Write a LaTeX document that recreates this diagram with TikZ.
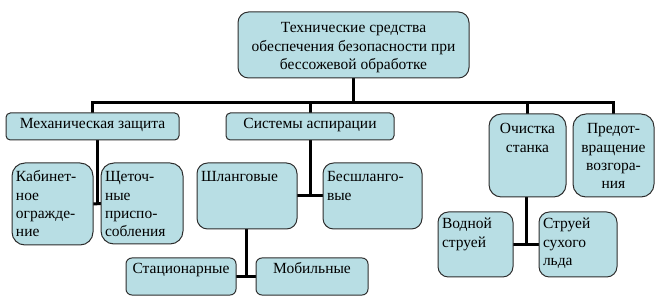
\documentclass[tikz,border=0pt]{standalone}
\usepackage{fontspec}
\setmainfont{Liberation Serif}
\newfontfamily\boxfont{Liberation Serif}
\usetikzlibrary{calc,backgrounds}
\definecolor{boxfill}{RGB}{184,222,228}
\definecolor{boxline}{RGB}{45,45,45}
\newcommand\bx[8]{% name, x1, y1, x2, y2, first baseline, align, text
\pgfmathsetmacro\bw{#4-#2-8}%
\pgfmathsetmacro\bh{#5-#3}%
\pgfmathsetmacro\br{0.16*min(#4-#2,#5-#3)}%
\node[box, rounded corners=\br pt, anchor=north west] (#1) at (#2,#3)
  {\parbox[t][\bh pt][t]{\bw pt}{\boxfont\fontsize{15.5}{18.3}\selectfont#7\rule{0pt}{#6pt}#8}};}
\begin{document}
\begin{tikzpicture}[x=1pt,y=-1pt,
  box/.style={draw=boxline, fill=boxfill, line width=1pt, inner xsep=4pt, inner ysep=0pt, outer sep=0pt},
  conn/.style={draw=black, line width=3pt}]
\useasboundingbox (0,0) rectangle (661,304);
\coordinate (busy) at (0,103);
% boxes
\bx{top}{238}{12}{469}{78}{21}{\centering}{Технические средства\\обеспечения безопасности при\\бессожевой обработке}
\bx{mech}{6}{113}{179}{140}{16}{\centering}{Механическая защита}
\bx{sys}{226}{113}{394}{140}{16}{\centering}{Системы аспирации}
\bx{och}{489}{114}{566}{197}{20}{\centering}{Очистка\\станка}
\bx{pred}{573}{114}{654}{197}{20}{\centering}{Предот-\\вращение\\возгора-\\ния}
\bx{kab}{12}{163}{93}{245}{19}{\raggedright}{Кабинет-\\ное\\огражде-\\ние}
\bx{shch}{101}{163}{183}{244}{19}{\raggedright}{Щеточ-\\ные\\приспо-\\собления}
\bx{shl}{197}{163}{297}{229}{19}{\raggedright}{Шланговые}
\bx{besh}{323}{163}{422}{229}{19}{\raggedright}{Бесшланго-\\вые}
\bx{stac}{126}{258}{236}{295}{15}{\centering}{Стационарные}
\bx{mob}{256}{258}{368}{295}{15}{\centering}{Мобильные}
\bx{vod}{438}{212}{513}{277}{17}{\raggedright}{Водной\\струей}
\bx{str}{539}{212}{617}{277}{17}{\raggedright}{Струей\\сухого\\льда}
% connectors
\coordinate (j1) at ($(kab.east)!0.5!(shch.west)$);
\coordinate (j2) at ($(shl.east)!0.5!(besh.west)$);
\coordinate (j3) at ($(stac.east)!0.5!(mob.west)$);
\coordinate (j4) at ($(vod.east)!0.5!(str.west)$);
\begin{pgfonlayer}{background}
\path[conn] (top.south) -- (top.south |- busy);
\path[conn] (mech.north) -- (mech.north |- busy) -- (pred.north |- busy) -- (pred.north);
\path[conn] (sys.north) -- (sys.north |- busy);
\path[conn] (och.north) -- (och.north |- busy);
\path[conn] (j1 |- mech.south) -- (j1);
\path[conn] (kab.east) -- (shch.west);
\path[conn] (j2 |- sys.south) -- (j2);
\path[conn] (shl.east) -- (besh.west);
\path[conn] (j3 |- shl.south) -- (j3);
\path[conn] (stac.east) -- (mob.west);
\path[conn] (j4 |- och.south) -- (j4);
\path[conn] (vod.east) -- (str.west);
\end{pgfonlayer}
\end{tikzpicture}
\end{document}
